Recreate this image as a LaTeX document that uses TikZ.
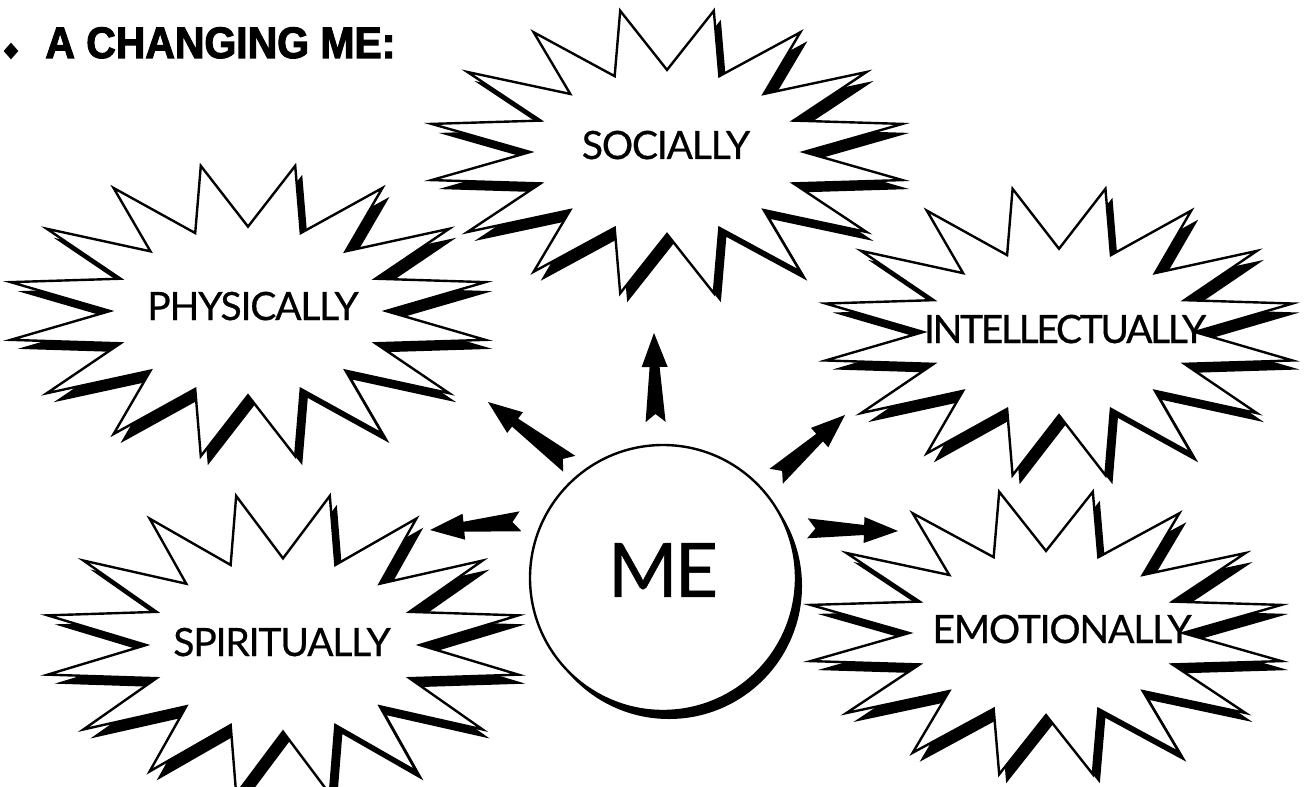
\documentclass[tikz,border=0pt]{standalone}
\usepackage{fontspec}
\usetikzlibrary{calc,shapes.geometric,shadows}
\newfontfamily\labfont{Lato}[LetterSpace=-3,FakeBold=0.6]
\newfontfamily\titlefont{Liberation Sans Bold}[FakeStretch=0.93,FakeBold=2.5]
\begin{document}
\begin{tikzpicture}[x=0.5pt,y=-0.5pt,
    burst/.style={draw, line width=1.2pt, fill=white,
      drop shadow={shadow xshift=3.5pt, shadow yshift=-4.5pt, fill=black, opacity=1}},
    lab/.style={font=\labfont\fontsize{19.5}{22}\selectfont, anchor=base, inner sep=0pt}]
        \fill[white] (0,0) rectangle (1309,786);
        \useasboundingbox (0,0) rectangle (1309,786);
        \node[diamond, fill, inner sep=0pt, minimum width=7.5pt, minimum height=8.5pt] (dot) at (11,51) {};
        \node[anchor=base west, inner sep=0pt, font=\titlefont\fontsize{22}{24}\selectfont] (title) at (45,58) {A CHANGING ME:};
        \foreach \nm/\cx/\cy/\rx/\ry/\tx/\ty/\lab in
            {phys/248/311/242/148/253/320/PHYSICALLY,
             soc/667/152/240/144/666/159/SOCIALLY,
             intel/1059/332/238/146/1065/343/{\addfontfeatures{LetterSpace=-6}INTELLECTUALLY},
             spir/283/645/240/152/282/656/SPIRITUALLY,
             emo/1046/633/240/144/1062/643/EMOTIONALLY}{
            \draw[burst] plot[samples at={0,...,31}, variable=\k]
                ({\cx+\rx*ifthenelse(iseven(\k),0.57,1)*cos(11.25*\k)},
                 {\cy-\ry*ifthenelse(iseven(\k),0.57,1)*sin(11.25*\k)}) -- cycle;
            \node[lab] (\nm) at (\tx,\ty) {\lab};
        }
        \node[circle, draw, line width=1.2pt, fill=white, minimum size=133pt, inner sep=0pt,
            text depth=8pt, font=\labfont\fontsize{37.5}{40}\selectfont\addfontfeatures{LetterSpace=-4},
            drop shadow={shadow xshift=3pt, shadow yshift=-4pt, fill=black, opacity=1}] (me) at (663,578) {ME};
        \coordinate (tipS) at (654,333);
        \coordinate (tipP) at (488,402);
        \coordinate (tipI) at (845,415);
        \coordinate (tipE) at (898,531);
        \coordinate (tipR) at (430,530);
        \coordinate (tailS) at ($(me.93)!11pt!(tipS)$);
        \coordinate (tailP) at ($(me.128)!7pt!(tipP)$);
        \coordinate (tailI) at ($(me.42)!9pt!(tipI)$);
        \coordinate (tailE) at ($(me.22)!10pt!(tipE)$);
        \coordinate (tailR) at ($(me.154)!11pt!(tipR)$);
        \foreach \a/\b in {tailS/tipS, tailP/tipP, tailI/tipI, tailE/tipE, tailR/tipR}{
            \coordinate (hb) at ($(\b)!17pt!(\a)$);
            \fill ($(\a)!5pt!90:(\b)$) -- ($(\a)!4pt!(\b)$) -- ($(\a)!5pt!-90:(\b)$)
                -- ($(hb)!2.5pt!-90:(\b)$) -- ($(hb)!6.5pt!-90:(\b)$) -- (\b)
                -- ($(hb)!6.5pt!90:(\b)$) -- ($(hb)!2.5pt!90:(\b)$) -- cycle;
        }
    \end{tikzpicture}
\end{document}
